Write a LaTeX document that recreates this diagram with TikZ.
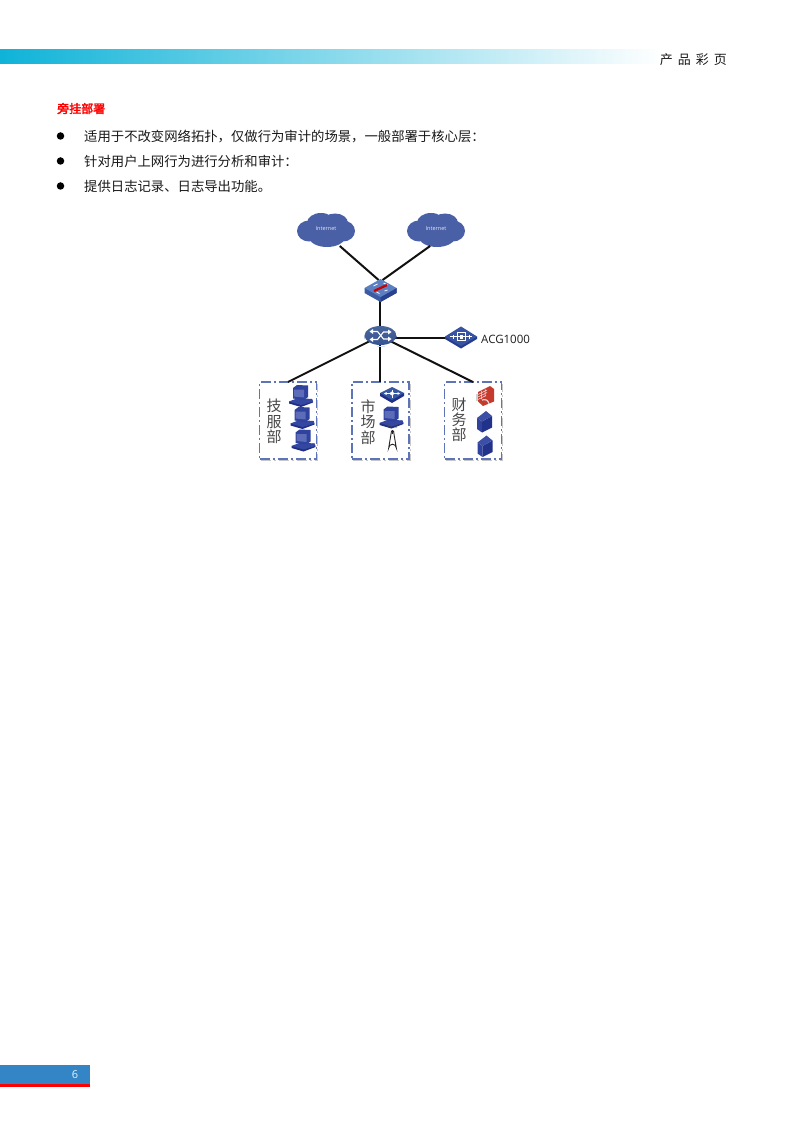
\documentclass[tikz,border=0pt]{standalone}
\usepackage{fontspec}
\setmainfont{Liberation Sans}
\newfontfamily\cjk{Noto Sans CJK SC}
\newfontfamily\cjkb[FakeBold=2.5]{Noto Sans CJK SC}
\newfontfamily\lat{Open Sans}
\definecolor{netblue}{HTML}{4A60A6}
\definecolor{topblue}{HTML}{5C7FC2}
\definecolor{sideblue}{HTML}{3B5CA2}
\definecolor{deepblue}{HTML}{2E429E}
\definecolor{darkblue}{HTML}{1F2F86}
\definecolor{screenblue}{HTML}{5C6CB8}
\definecolor{diaglinks}{HTML}{111111}
\definecolor{dashblue}{HTML}{5E74B8}
\definecolor{bricks}{HTML}{C63A2E}
\definecolor{barleft}{HTML}{0FB3D8}
\definecolor{barmid}{HTML}{6AD3E8}
\tikzset{
  link/.style={draw=diaglinks,line width=2pt},
  port/.style={inner sep=0pt,outer sep=0pt,minimum width=32pt,minimum height=16pt},
  cloudnode/.style={minimum width=58pt,minimum height=34pt,inner sep=0pt,outer sep=0pt,
    text=white!85!netblue,font=\lat\fontsize{5.5}{6}\selectfont},
  group/.style={draw=dashblue,line width=1.1pt,dash pattern=on 10pt off 3pt on 2pt off 3pt,
    minimum width=57pt,minimum height=77pt,inner sep=0pt,outer sep=0pt},
  cjkbody/.style={font=\cjk\fontsize{13.35}{15}\selectfont,anchor=west,inner sep=0pt,text=black!90},
  grouplabel/.style={font=\cjk\fontsize{15}{16}\selectfont,inner sep=0pt,text=black!72},
  bulletdot/.style={circle,fill=black,minimum size=7.5pt,inner sep=0pt},
  cloudicon/.pic={
    \fill[netblue] (-17,1) ellipse (12 and 10.5) (17,1) ellipse (12 and 10.5)
      (-5,-7) ellipse (14 and 10) (9,-7) ellipse (13 and 9.5)
      (1,7) ellipse (18 and 10) (0,0) ellipse (22 and 10);
  },
  pcicon/.pic={
    \fill[darkblue] (-12,6.5) -- (-12,8.5) -- (0,12) -- (12,7.5) -- (11,4) -- cycle;
    \fill[deepblue!88!screenblue] (-12,6.5) -- (-3,3) -- (11,4) -- (12,6.5) -- (0,10) -- cycle;
    \fill[deepblue] (-8,-7) -- (-4,-10) -- (7,-9.5) -- (7,2) -- (3,5) -- (-8,3.5) -- cycle;
    \fill[screenblue] (-7,-5.5) -- (3,-5.5) -- (3,2.5) -- (-7,1.5) -- cycle;
  },
  srvicon/.pic={
    \fill[deepblue] (-8,-3.5) -- (-3,0) -- (-3,11) -- (-8,7.5) -- cycle;
    \fill[darkblue!85!deepblue] (-3,0) -- (7,-5.5) -- (7,6) -- (-3,11) -- cycle;
    \fill[deepblue!70!screenblue] (-8,-3.5) -- (1,-10.5) -- (7,-5.5) -- (-3,0) -- cycle;
  },
  swicon/.pic={
    \fill[darkblue] (-12,-1) -- (-12,2) -- (0,9) -- (12,2) -- (12,-1) -- cycle;
    \fill[sideblue!80!deepblue] (0,-7) -- (12,-1) -- (0,6) -- (-12,-1) -- cycle;
    \draw[white,line width=.9pt] (-7,-.5) -- (7,-.5) (0,-4.5) -- (0,3.5);
    \fill[white] (0,-.5) circle (2);
    \fill[white] (-8,-.5) -- (-5.5,-2) -- (-5.5,1) -- cycle (8,-.5) -- (5.5,-2) -- (5.5,1) -- cycle;
  },
}
\begin{document}
\begin{tikzpicture}[x=1pt,y=-1pt]
\useasboundingbox (0,0) rectangle (794,1123);
\fill[white] (0,0) rectangle (794,1123);
% page furniture
\shade[left color=barleft,middle color=barmid,right color=white,draw=none] (0,50) rectangle (662,64);
\node[font=\cjk\fontsize{13}{15}\selectfont,anchor=east,inner sep=0pt,text=black!90] (hdr) at (727,59.5)
  {产\kern5pt 品\kern5pt 彩\kern5pt 页};
\fill[fill={rgb,255:red,51;green,133;blue,198}] (0,1065) rectangle (90,1084);
\fill[red] (0,1084) rectangle (90,1087);
\node[font=\lat\fontsize{11}{12}\selectfont,text=white!88!cyan,inner sep=0pt] (pageno) at (75,1075) {6};
% text
\node[font=\cjkb\fontsize{12}{14}\selectfont,text=red,anchor=west,inner sep=0pt] (title) at (57,108.5) {旁挂部署};
\node[bulletdot] (b1) at (60.5,136) {};
\node[bulletdot] (b2) at (60.5,161) {};
\node[bulletdot] (b3) at (60.5,186) {};
\node[cjkbody] (t1) at (84,136.5) {适用于不改变网络拓扑，仅做行为审计的场景，一般部署于核心层：};
\node[cjkbody] (t2) at (84,161.5) {针对用户上网行为进行分析和审计：};
\node[cjkbody] (t3) at (84,186.5) {提供日志记录、日志导出功能。};
% clouds
\pic at (326,230) {cloudicon};
\pic at (436,230) {cloudicon};
\node[cloudnode] (inet1) at (326,229) {Internet};
\node[cloudnode] (inet2) at (436,229) {Internet};
% anchors of the devices
\node[port] (fw) at (380,288) {};
\node[port] (rt) at (380,336) {};
\node[port] (acg) at (461,338) {};
% groups
\foreach \n/\cx in {g1/288,g2/380.5,g3/473}{
  \draw[black!22,line width=1pt,dash pattern=on 10pt off 3pt on 2pt off 3pt]
     (\cx-27.5,382.5+78) -- (\cx+29.5,382.5+78) -- (\cx+29.5,383.5);
  \node[group] (\n) at (\cx,420.5) {};
}
% connectors
\draw[link] (inet1.-51) -- (fw.100);
\draw[link] (inet2.-109) -- (fw.72);
\draw[link] (fw.center) -- (rt.center);
\draw[link] (rt.center |- acg.center) -- (acg.center);
\draw[link] (rt.center) -- (g1.north);
\draw[link] (rt.center) -- (rt.center |- g2.north);
\draw[link] (rt.center) -- (g3.north);
% firewall switch
\begin{scope}[shift={(380.5,288)}]
  \fill[sideblue] (-16,0) -- (-16,5) -- (0,14) -- (16,5) -- (16,0) -- cycle;
  \fill[darkblue!60!sideblue] (0,9) -- (16,0) -- (16,5) -- (0,14) -- cycle;
  \fill[topblue] (0,-9) -- (16,0) -- (0,9) -- (-16,0) -- cycle;
  \draw[white,line width=.7pt] (-7,-2) -- (-3,-4) (3,-5) -- (7,-3) (-4,4) -- (-1,5.5) (4,3) -- (7,2);
  \draw[red!80!black,line width=2.3pt] (-6.5,3) -- (6.5,-3);
\end{scope}
% router
\begin{scope}[shift={(380.5,335.5)}]
  \fill[darkblue!80!sideblue] (-16,0) -- (-16,3.5) arc[start angle=180,end angle=360,x radius=16,y radius=9.5] -- (16,0) -- cycle;
  \shade[top color=topblue!80!black,bottom color=sideblue!90!black] (0,0) ellipse (16 and 9.5);
  \draw[white,line width=1.1pt] (-9,-4) -- (-3,-4) -- (3,3.5) -- (9,3.5) (-9,4) -- (-3,4) -- (3,-3.5) -- (9,-3.5);
  \fill[white] (11,3.5) -- (7.5,1) -- (7.5,6) -- cycle (11,-3.5) -- (7.5,-6) -- (7.5,-1) -- cycle
               (-11,-4) -- (-7.5,-6.5) -- (-7.5,-1.5) -- cycle (-11,4) -- (-7.5,1.5) -- (-7.5,6.5) -- cycle;
  \draw[white!80!sideblue,line width=.8pt] (-4,10.5) -- (4,10.5);
\end{scope}
% ACG device
\begin{scope}[shift={(461,337.5)}]
  \fill[darkblue!70!sideblue] (-16,-1) -- (-16,1.5) -- (0,11) -- (16,1.5) -- (16,-1) -- cycle;
  \fill[sideblue!65!deepblue] (0,-11) -- (16,-1) -- (0,8.5) -- (-16,-1) -- cycle;
  \draw[white,line width=.7pt] (-11,-1) -- (11,-1) (-4,-5) rectangle (4,3);
  \draw[white,line width=.7pt] (-8,-3) -- (-8,1) (8,-3) -- (8,1);
  \fill[white] (-1.5,-3) rectangle (1.5,1);
\end{scope}
\node[font=\lat\fontsize{11.5}{13}\selectfont,anchor=west,inner sep=0pt,text=black!88] (acglabel) at (481,339) {ACG1000};
% group labels
\node[grouplabel] (a1) at (274,406) {技};
\node[grouplabel] (a2) at (274,422) {服};
\node[grouplabel] (a3) at (274,437) {部};
\node[grouplabel] (b1l) at (368,407) {市};
\node[grouplabel] (b2l) at (368,422) {场};
\node[grouplabel] (b3l) at (368,438) {部};
\node[grouplabel] (c1) at (459,405) {财};
\node[grouplabel] (c2) at (459,420) {务};
\node[grouplabel] (c3) at (459,435) {部};
% icons group 1
\pic at (301,395) {pcicon};
\pic at (302.5,417) {pcicon};
\pic at (303.5,439.5) {pcicon};
% icons group 2
\pic at (392,394) {swicon};
\pic at (391.5,416.5) {pcicon};
\begin{scope}[shift={(392.5,440)}]
  \draw[black!85,line width=.9pt,fill=white] (-1,-9) -- (1,-9) -- (3.8,8) arc[start angle=0,end angle=-180,radius=3.8] -- cycle;
  \draw[black!85,line width=.6pt] (0,-10) -- (0,-6);
  \draw[black!70,line width=.5pt] (-2.5,-12) arc[start angle=150,end angle=210,radius=3]
       (2.5,-12) arc[start angle=30,end angle=-30,radius=3]
       (-4,-12.5) arc[start angle=150,end angle=210,radius=4.5]
       (4,-12.5) arc[start angle=30,end angle=-30,radius=4.5];
\end{scope}
% icons group 3
\begin{scope}[shift={(486,396)}]
  \fill[bricks] (-8,-4) -- (4,-10) -- (8,-7) -- (8,5.5) -- (-3,10) -- (-8,5.5) -- cycle;
  \draw[white!85!bricks,line width=.5pt] (-8,-1.5) -- (1,-6) (-8,1) -- (1,-3.5) (-8,3.5) -- (0,-.5)
     (-4.5,-5.5) -- (-4.5,3) (-1,-7.5) -- (-1,0.5);
  \draw[black!15,line width=1.2pt] (-4,4) .. controls (0,3) and (2,4) .. (3,8);
  \fill[black!18] (-10,-2) rectangle (-8,5);
\end{scope}
\pic at (485,421.5) {srvicon};
\pic at (485.5,446) {srvicon};
\end{tikzpicture}
\end{document}
